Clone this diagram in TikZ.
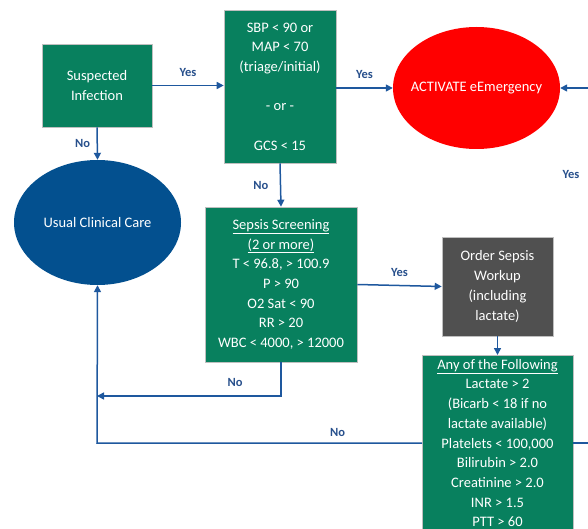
\documentclass[tikz,border=0pt]{standalone}
\usepackage{fontspec}
\setmainfont{Carlito}
\usetikzlibrary{arrows.meta,calc,shapes.geometric}
\definecolor{boxgreen}{RGB}{8,128,94}
\definecolor{careblue}{RGB}{3,80,143}
\definecolor{ordergray}{RGB}{80,80,80}
\definecolor{linkblue}{RGB}{30,88,158}
\definecolor{labelblue}{RGB}{40,80,140}
\begin{document}
\begin{tikzpicture}[x=1pt,y=-1pt,
  txt/.style={font=\fontsize{14.5}{19.7}\selectfont,text=white,align=center},
  gbox/.style={txt,fill=boxgreen,draw=black!25,line width=0.6pt,inner sep=0pt},
  oval/.style={ellipse,inner sep=0pt,label={[txt]center:#1}},
  link/.style={draw=linkblue,line width=1.5pt,-{Triangle[length=7pt,width=7pt]}},
  plain/.style={draw=linkblue,line width=1.5pt},
  lbl/.style={font=\fontsize{12.5}{14}\selectfont\bfseries,text=labelblue}]
\clip (0,0) rectangle (588,529);
\useasboundingbox (0,0) rectangle (588,529);
% nodes
\node[gbox,minimum width=110,minimum height=83] (susp) at (97,85.5) {Suspected\\Infection};
\node[gbox,minimum width=112,minimum height=153] (sbp) at (280,86.5) {SBP < 90 or\\MAP < 70\\(triage/initial)\\ \\- or -\\ \\GCS < 15};
\node[oval={ACTIVATE eEmergency},fill=red,minimum width=167,minimum height=122] (act) at (476.5,88) {};
\node[oval={Usual Clinical Care},fill=careblue,minimum width=167,minimum height=125] (care) at (97.5,222.5) {};
\node[gbox,minimum width=152,minimum height=155] (scr) at (281,284.5) {\underline{Sepsis Screening}\\\underline{(2 or more)}\\T < 96.8, > 100.9\\P > 90\\O2 Sat < 90\\RR > 20\\WBC < 4000, > 12000};
\node[txt,fill=ordergray,draw=black!25,line width=0.6pt,minimum width=111,minimum height=99,inner sep=0pt] (ord) at (497.5,286.5) {Order Sepsis\\Workup\\(including\\lactate)};
\node[gbox,minimum width=151,minimum height=220,anchor=north] (any) at (497.5,355) {};
\node[txt,anchor=north,inner sep=0pt] (anyt) at (497.5,359) {\underline{Any of the Following}\\Lactate > 2\\(Bicarb < 18 if no\\lactate available)\\Platelets < 100,000\\Bilirubin > 2.0\\Creatinine > 2.0\\INR > 1.5\\PTT > 60};
% coordinates
\coordinate (redge) at (588,88);
\coordinate (anyw) at (422,443);
\coordinate (anye) at (573,443);
\coordinate (redge2) at (588,443);
\coordinate (scrturn) at (281,396);
\coordinate (carejoin) at (97,396);
\coordinate (anyturn) at (97,443);
% connectors
\draw[link] (susp.east) -- (sbp.west |- susp.east) node[lbl,midway,above=5pt] {Yes};
\draw[link] (sbp.east |- act.west) -- (act.west) node[lbl,midway,above=5pt] {Yes};
\draw[link] (redge) -- (act.east);
\node[lbl] (yesr) at (571,174) {Yes};
\draw[link] (susp.south) -- (care.north) node[lbl,midway,left=3pt] {No};
\draw[link] (sbp.south) -- (scr.north) node[lbl,midway,left=8pt] {No};
\draw[link] (scr.east) -- (ord.west) node[lbl,midway,above=5pt] {Yes};
\draw[link] (ord.south) -- (any.north);
\draw[link] (scr.south) -- (scrturn) -- (carejoin) node[lbl,pos=0.25,above=5pt] {No};
\draw[link] (anyw) -- (anyturn) node[lbl,pos=0.26,above=2pt] {No} -- (care.south);
\draw[plain] (anye) -- (redge2);
\end{tikzpicture}
\end{document}
